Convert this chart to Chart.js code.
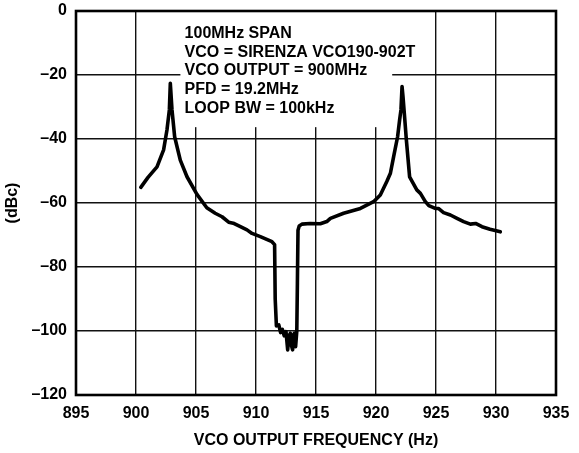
<!DOCTYPE html>
<html><head><meta charset="utf-8">
<script src="https://cdn.jsdelivr.net/npm/chart.js@4.4.0/dist/chart.umd.min.js"></script>
<style>html,body{margin:0;padding:0;background:#fff;}canvas{display:block;}</style>
</head><body>
<canvas id="c" width="579" height="453"></canvas>
<script>
// ---- data ----
const frequencies = [
  900.4, 901.0, 901.75, 902.3, 902.58, 902.78, 902.86, 903.0, 903.22, 903.69,
  904.25, 905.08, 905.9, 906.6, 907.17, 907.72, 908.1, 908.7, 909.25, 909.67,
  910.36, 911.33, 911.55, 911.6, 911.7, 911.9, 912.05, 912.2, 912.35, 912.5,
  912.64, 912.75, 912.86, 912.95, 913.05, 913.15, 913.2, 913.3, 913.4, 913.45,
  913.5, 913.6, 913.83, 914.5, 915.36, 915.9, 916.2, 917.3, 918.7, 919.8,
  920.36, 920.9, 921.2, 921.47, 921.8, 921.97, 922.08, 922.17, 922.25, 922.36,
  922.53, 922.8, 923.4, 923.7, 924.1, 924.4, 924.94, 925.2, 925.63, 926.2,
  926.75, 927.3, 927.86, 928.3, 928.83, 929.5, 930.36
];
const levels = [
  -55.1, -52.0, -48.7, -43.4, -37.2, -30.9, -22.6, -30.9, -39.3, -46.6,
  -51.8, -57.3, -61.5, -63.2, -64.3, -66.0, -66.3, -67.4, -68.4, -69.5,
  -70.5, -72.1, -73.0, -90.0, -98.4, -98.1, -100.5, -99.5, -101.5, -100.2,
  -105.9, -101.5, -100.7, -104.5, -105.9, -101.0, -100.7, -104.9, -100.0, -85.0,
  -68.5, -67.2, -66.6, -66.4, -66.5, -65.8, -64.8, -63.2, -61.7, -59.6,
  -57.5, -53.3, -50.7, -45.5, -39.3, -34.0, -30.9, -23.6, -26.8, -32.0,
  -40.3, -51.8, -55.9, -57.0, -59.5, -60.8, -61.7, -61.7, -63.0, -63.75,
  -64.8, -65.8, -66.6, -66.4, -67.4, -68.2, -69.0
];
const xTickValues = [895, 900, 905, 910, 915, 920, 925, 930, 935];
const yTickValues = [0, -20, -40, -60, -80, -100, -120];
const yTickLabels = ['0', '–20', '–40', '–60', '–80', '–100', '–120'];
const annotationLines = [
  '100MHz SPAN',
  'VCO = SIRENZA VCO190-902T',
  'VCO OUTPUT = 900MHz',
  'PFD = 19.2MHz',
  'LOOP BW = 100kHz'
];
const xTitle = 'VCO OUTPUT FREQUENCY (Hz)';
const yTitle = '(dBc)';

// ---- styling ----
const FONT = '"Liberation Sans", Arial, Helvetica, sans-serif';
const FS = 16;

const points = frequencies.map((f, i) => ({ x: f, y: levels[i] }));

const framePlugin = {
  id: 'frame',
  beforeDatasetsDraw(chart) {
    const { ctx, scales: { x, y } } = chart;
    // white panel behind the annotation text (data-space extents)
    const l = x.getPixelForValue(903.7), r = x.getPixelForValue(921.35);
    const t = y.getPixelForValue(0), b = y.getPixelForValue(-36.3);
    ctx.save();
    ctx.fillStyle = '#fff';
    ctx.fillRect(l, t, r - l, b - t);
    ctx.fillStyle = '#000';
    ctx.font = 'bold ' + FS + 'px ' + FONT;
    ctx.textBaseline = 'middle';
    ctx.textAlign = 'left';
    const tx = x.getPixelForValue(904.05);
    const ty0 = y.getPixelForValue(-7.0);
    annotationLines.forEach((s, i) => ctx.fillText(s, tx, ty0 + i * 18.75));
    ctx.restore();
  },
  afterDraw(chart) {
    const { ctx, chartArea: a } = chart;
    ctx.save();
    ctx.strokeStyle = '#000';
    ctx.lineWidth = 2.6;
    ctx.strokeRect(a.left, a.top, a.right - a.left, a.bottom - a.top);
    ctx.restore();
  }
};

new Chart(document.getElementById('c'), {
  type: 'line',
  data: {
    datasets: [{
      data: points,
      borderColor: '#000',
      borderWidth: 3.6,
      pointRadius: 0,
      tension: 0,
      fill: false,
      borderJoinStyle: 'round',
      borderCapStyle: 'round'
    }]
  },
  options: {
    responsive: false,
    animation: false,
    layout: { padding: { left: 0, right: 23, top: 11, bottom: 0 } },
    plugins: { legend: { display: false }, tooltip: { enabled: false } },
    scales: {
      x: {
        type: 'linear',
        min: 895, max: 935,
        afterBuildTicks: s => { s.ticks = xTickValues.map(v => ({ value: v })); },
        afterFit: s => { s.height = 58; s.paddingLeft = 0; s.paddingRight = 0; },
        grid: { color: '#111', lineWidth: 1.4, drawTicks: false },
        border: { display: false },
        ticks: { color: '#000', padding: 9, font: { family: FONT, size: FS, weight: 'bold' }, maxRotation: 0, autoSkip: false },
        title: { display: true, text: xTitle, color: '#000', font: { family: FONT, size: FS, weight: 'bold' }, padding: { top: 0, bottom: 3 } }
      },
      y: {
        type: 'linear',
        min: -120, max: 0,
        afterBuildTicks: s => { s.ticks = yTickValues.map(v => ({ value: v })); },
        afterFit: s => { s.width = 76; s.paddingTop = 0; s.paddingBottom = 0; },
        grid: { color: '#111', lineWidth: 1.4, drawTicks: false },
        border: { display: false },
        ticks: {
          color: '#000', padding: 9, font: { family: FONT, size: FS, weight: 'bold' },
          callback: v => yTickLabels[yTickValues.indexOf(v)]
        },
        title: { display: true, text: yTitle, color: '#000', font: { family: FONT, size: FS, weight: 'bold' }, padding: { top: 3, bottom: 0 } }
      }
    }
  },
  plugins: [framePlugin]
});
</script>
</body></html>
